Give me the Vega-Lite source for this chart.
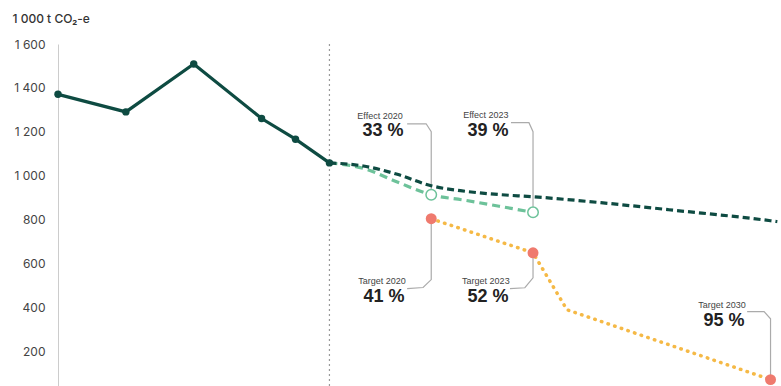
{
  "$schema": "https://vega.github.io/schema/vega-lite/v6.json",
  "width": 720,
  "height": 342,
  "autosize": {"type": "none"},
  "padding": {"left": 58, "top": 44, "right": 3, "bottom": 0},
  "background": "white",
  "config": {"view": {"stroke": null}, "font": "Inter"},
  "datasets": {
    "hist": [
      {"year": 2009, "value": 1371},
      {"year": 2011, "value": 1291},
      {"year": 2013, "value": 1509},
      {"year": 2015, "value": 1261},
      {"year": 2016, "value": 1167},
      {"year": 2017, "value": 1059}
    ],
    "base": [
      {"year": 2017, "value": 1059},
      {"year": 2018, "value": 1045},
      {"year": 2019, "value": 1007},
      {"year": 2020, "value": 955},
      {"year": 2021, "value": 930},
      {"year": 2022, "value": 915},
      {"year": 2023, "value": 905},
      {"year": 2025, "value": 878},
      {"year": 2027, "value": 846},
      {"year": 2030, "value": 796},
      {"year": 2030.2, "value": 792}
    ],
    "effect": [
      {"year": 2017, "value": 1059},
      {"year": 2018, "value": 1034},
      {"year": 2019, "value": 972},
      {"year": 2020, "value": 914},
      {"year": 2021, "value": 889},
      {"year": 2022, "value": 862},
      {"year": 2023, "value": 834}
    ],
    "target": [
      {"year": 2020, "value": 805},
      {"year": 2023, "value": 650},
      {"year": 2024, "value": 391},
      {"year": 2030, "value": 73}
    ],
    "effectPts": [
      {"year": 2020, "value": 914},
      {"year": 2023, "value": 834}
    ],
    "targetPts": [
      {"year": 2020, "value": 805},
      {"year": 2023, "value": 650},
      {"year": 2030, "value": 73}
    ],
    "leaders": [
      {"id": "e20", "ord": 1, "year": 2019.29, "value": 1237},
      {"id": "e20", "ord": 2, "year": 2019.85, "value": 1237},
      {"id": "e20", "ord": 3, "year": 2020, "value": 1201},
      {"id": "e20", "ord": 4, "year": 2020, "value": 940},
      {"id": "e23", "ord": 1, "year": 2022.35, "value": 1242},
      {"id": "e23", "ord": 2, "year": 2022.88, "value": 1242},
      {"id": "e23", "ord": 3, "year": 2023, "value": 1201},
      {"id": "e23", "ord": 4, "year": 2023, "value": 860},
      {"id": "t20", "ord": 1, "year": 2020, "value": 805},
      {"id": "t20", "ord": 2, "year": 2020, "value": 528},
      {"id": "t20", "ord": 3, "year": 2019.76, "value": 492},
      {"id": "t20", "ord": 4, "year": 2019.29, "value": 487},
      {"id": "t23", "ord": 1, "year": 2023, "value": 650},
      {"id": "t23", "ord": 2, "year": 2023, "value": 536},
      {"id": "t23", "ord": 3, "year": 2022.76, "value": 491},
      {"id": "t23", "ord": 4, "year": 2022.32, "value": 487},
      {"id": "t30", "ord": 1, "year": 2029.31, "value": 382},
      {"id": "t30", "ord": 2, "year": 2029.81, "value": 382},
      {"id": "t30", "ord": 3, "year": 2030, "value": 350},
      {"id": "t30", "ord": 4, "year": 2030, "value": 86}
    ],
    "smallLabels": [
      {"year": 2018.49, "value": 1273, "label": "Effect 2020"},
      {"year": 2021.61, "value": 1278, "label": "Effect 2023"},
      {"year": 2018.55, "value": 522, "label": "Target 2020"},
      {"year": 2021.61, "value": 522, "label": "Target 2023"},
      {"year": 2028.57, "value": 414, "label": "Target 2030"}
    ],
    "bigLabels": [
      {"year": 2018.58, "value": 1206, "label": "33 %"},
      {"year": 2021.67, "value": 1206, "label": "39 %"},
      {"year": 2018.61, "value": 450, "label": "41 %"},
      {"year": 2021.67, "value": 450, "label": "52 %"},
      {"year": 2028.63, "value": 341, "label": "95 %"}
    ],
    "divider": [{"year": 2017}]
  },
  "layer": [
    {
      "data": {"name": "divider"},
      "mark": {"type": "rule", "color": "#9a9a9a", "strokeWidth": 1.2, "strokeDash": [2, 3]},
      "encoding": {
        "x": {"field": "year", "type": "quantitative", "scale": {"domain": [2009, 2030.22], "nice": false, "zero": false}, "axis": null}
      }
    },
    {
      "data": {"name": "leaders"},
      "mark": {"type": "line", "color": "#ababab", "strokeWidth": 1.2, "interpolate": "linear"},
      "encoding": {
        "x": {"field": "year", "type": "quantitative", "scale": {"domain": [2009, 2030.22], "nice": false, "zero": false}, "axis": null},
        "y": {"field": "value", "type": "quantitative", "scale": {"domain": [44, 1600], "nice": false, "zero": false},
          "axis": {
            "values": [200, 400, 600, 800, 1000, 1200, 1400, 1600],
            "labelExpr": "replace(format(datum.value, ','), ',', ' ')",
            "ticks": false, "grid": false,
            "domainColor": "#cccccc", "domainWidth": 1,
            "labelPadding": 13, "labelFontSize": 12, "labelColor": "#444444", "labelFont": "Inter",
            "labelFlush": false, "labelOverlap": false, "labelBound": false,
            "title": "1 000 t CO₂-e", "titleAngle": 0, "titleAlign": "left", "titleBaseline": "middle",
            "titleX": -46, "titleY": -26, "titleFontSize": 12, "titleFontWeight": 500, "titleColor": "#333333", "titleFont": "Inter"
          }
        },
        "detail": {"field": "id"},
        "order": {"field": "ord", "type": "quantitative"}
      }
    },
    {
      "data": {"name": "target"},
      "mark": {"type": "line", "color": "#f5b946", "strokeWidth": 3.5, "strokeCap": "round", "strokeDash": [0.5, 6.5]},
      "encoding": {
        "x": {"field": "year", "type": "quantitative"},
        "y": {"field": "value", "type": "quantitative"}
      }
    },
    {
      "data": {"name": "effect"},
      "mark": {"type": "line", "color": "#6dc29a", "strokeWidth": 3.2, "strokeDash": [8, 5], "interpolate": "monotone"},
      "encoding": {
        "x": {"field": "year", "type": "quantitative"},
        "y": {"field": "value", "type": "quantitative"}
      }
    },
    {
      "data": {"name": "base"},
      "mark": {"type": "line", "color": "#0e4b42", "strokeWidth": 3.2, "strokeDash": [7, 4], "interpolate": "monotone"},
      "encoding": {
        "x": {"field": "year", "type": "quantitative"},
        "y": {"field": "value", "type": "quantitative"}
      }
    },
    {
      "data": {"name": "hist"},
      "mark": {"type": "line", "color": "#0e4b42", "strokeWidth": 3.2},
      "encoding": {
        "x": {"field": "year", "type": "quantitative"},
        "y": {"field": "value", "type": "quantitative"}
      }
    },
    {
      "data": {"name": "hist"},
      "mark": {"type": "point", "filled": true, "color": "#0e4b42", "opacity": 1, "size": 55},
      "encoding": {
        "x": {"field": "year", "type": "quantitative"},
        "y": {"field": "value", "type": "quantitative"}
      }
    },
    {
      "data": {"name": "effectPts"},
      "mark": {"type": "point", "filled": false, "fill": "white", "stroke": "#6dc29a", "strokeWidth": 1.5, "opacity": 1, "size": 110},
      "encoding": {
        "x": {"field": "year", "type": "quantitative"},
        "y": {"field": "value", "type": "quantitative"}
      }
    },
    {
      "data": {"name": "targetPts"},
      "mark": {"type": "point", "filled": true, "color": "#ef7a6e", "opacity": 1, "size": 120},
      "encoding": {
        "x": {"field": "year", "type": "quantitative"},
        "y": {"field": "value", "type": "quantitative"}
      }
    },
    {
      "data": {"name": "smallLabels"},
      "mark": {"type": "text", "font": "Liberation Sans", "fontSize": 9, "color": "#444444", "align": "center", "baseline": "middle"},
      "encoding": {
        "x": {"field": "year", "type": "quantitative"},
        "y": {"field": "value", "type": "quantitative"},
        "text": {"field": "label"}
      }
    },
    {
      "data": {"name": "bigLabels"},
      "mark": {"type": "text", "font": "Liberation Sans", "fontSize": 18, "fontWeight": "bold", "color": "#222222", "align": "center", "baseline": "middle"},
      "encoding": {
        "x": {"field": "year", "type": "quantitative"},
        "y": {"field": "value", "type": "quantitative"},
        "text": {"field": "label"}
      }
    }
  ]
}
